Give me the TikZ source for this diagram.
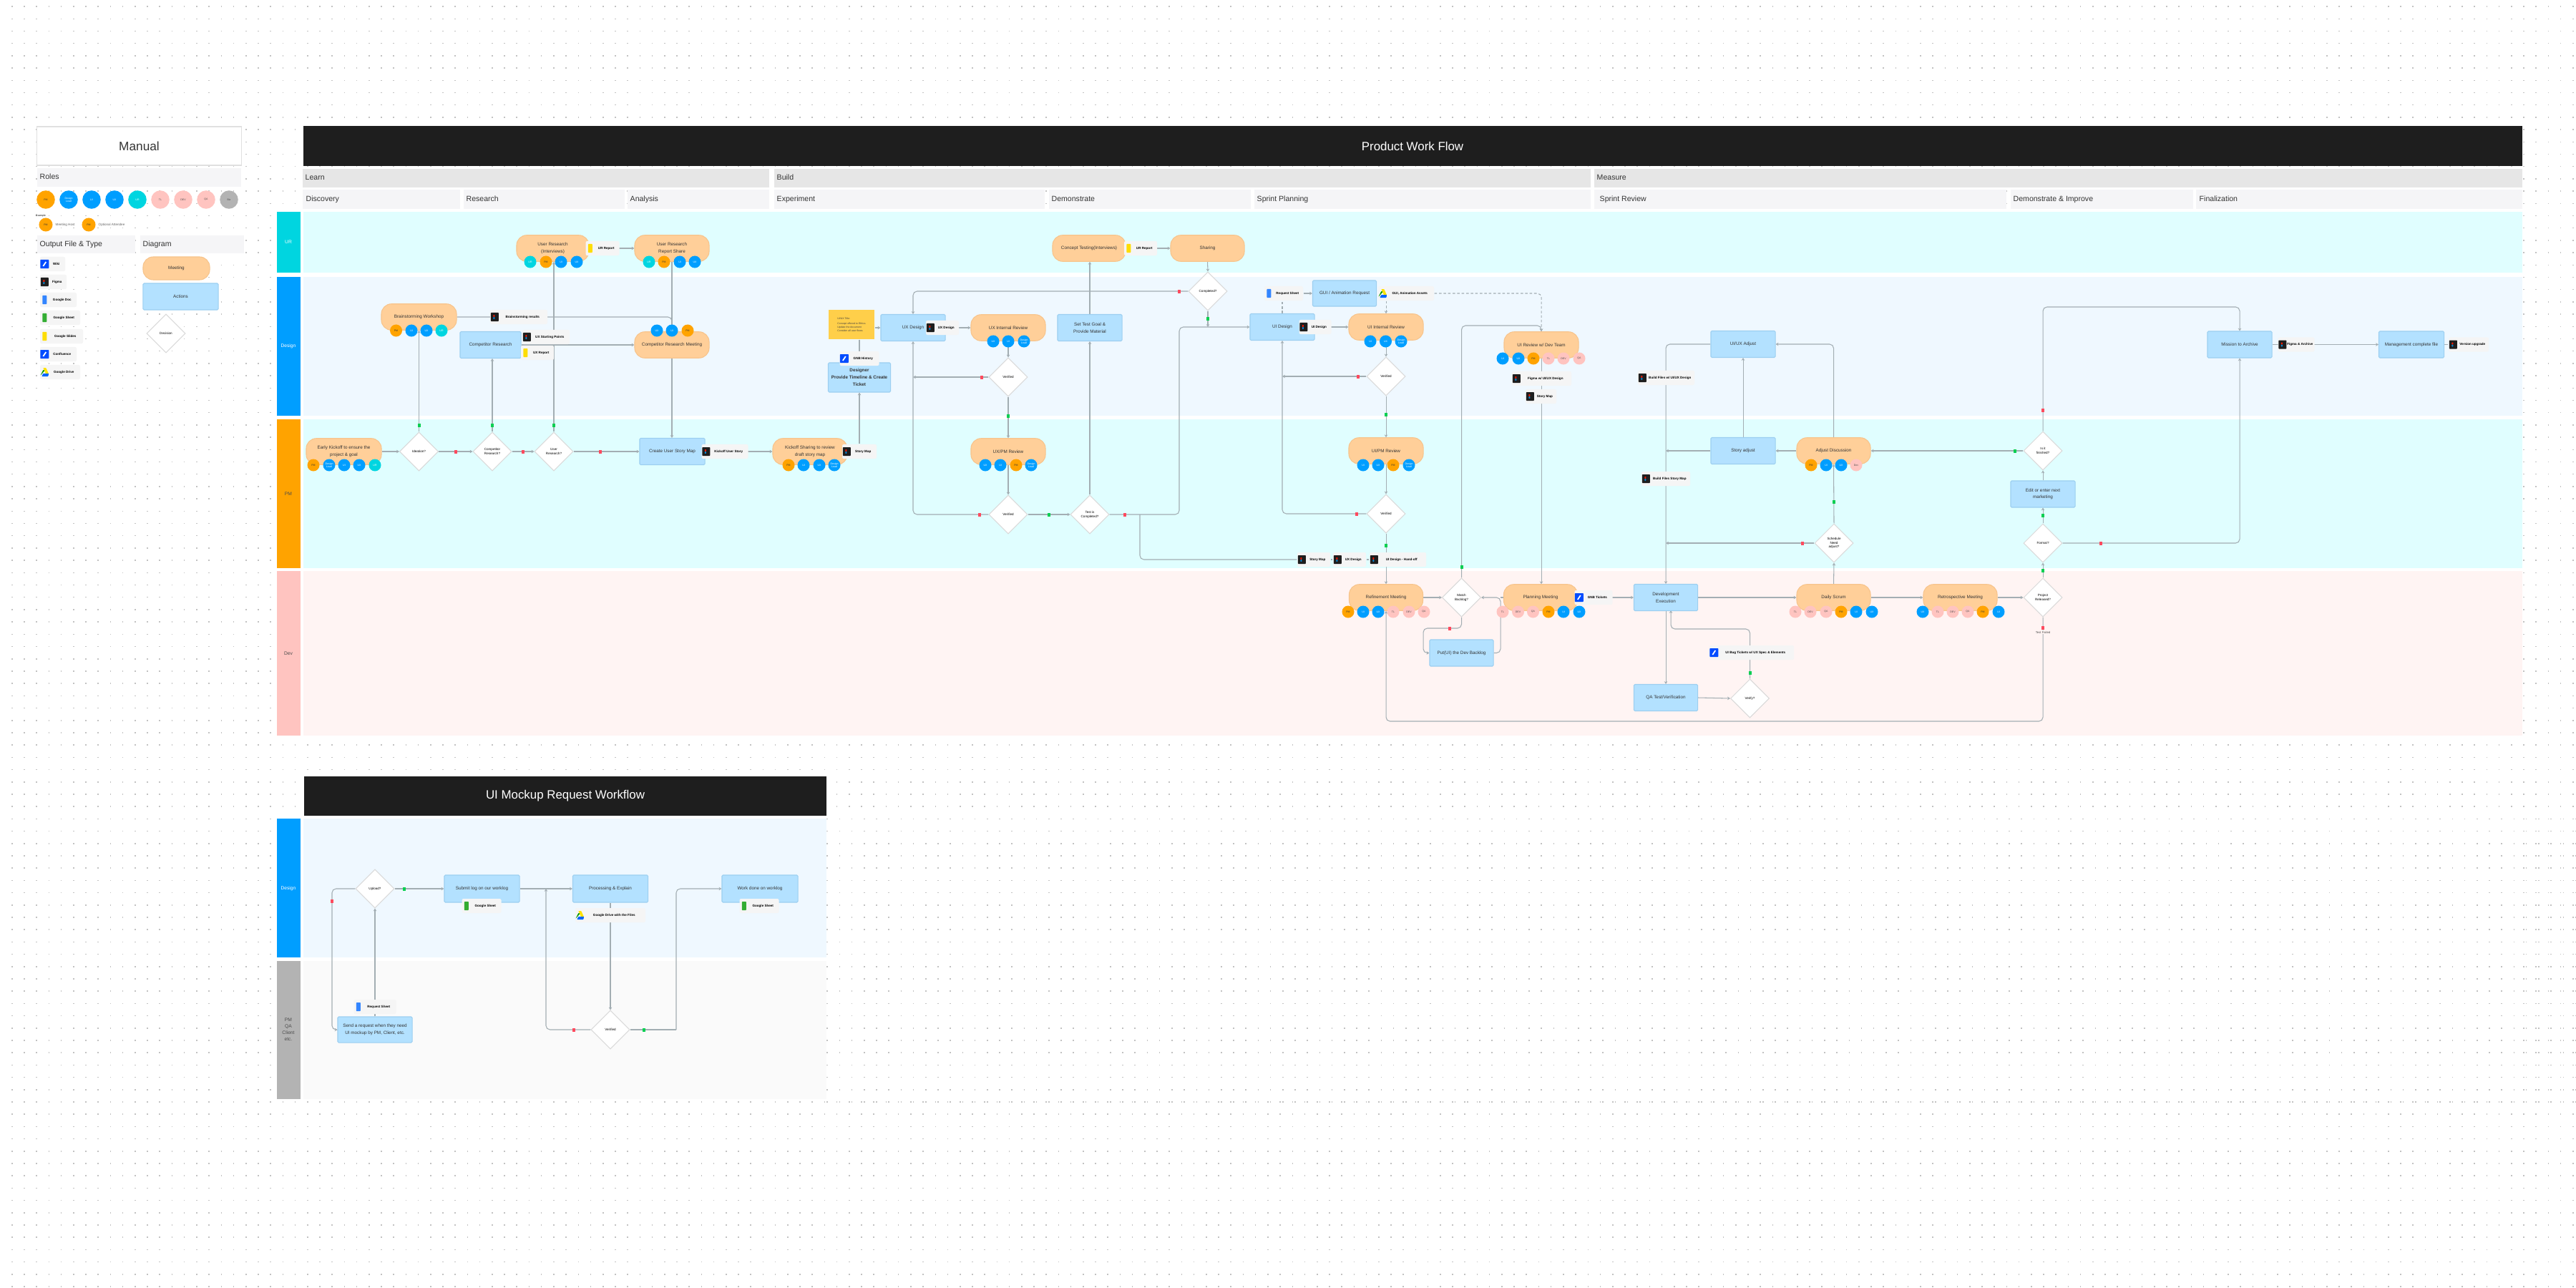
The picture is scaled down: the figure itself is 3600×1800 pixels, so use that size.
\documentclass[tikz,border=0pt]{standalone}
\usepackage{fontspec}
\setmainfont{Liberation Sans}
\usepackage{xcolor}
\usetikzlibrary{arrows.meta, positioning, shapes.geometric, calc}
\pgfdeclarelayer{lanes}
\pgfdeclarelayer{wires}
\pgfsetlayers{lanes,wires,main}

\definecolor{hdrblack}{HTML}{1E1E1E}
\definecolor{barmid}{HTML}{E6E6E6}
\definecolor{barlight}{HTML}{F5F5F7}
\definecolor{laneur}{HTML}{E0FEFF}
\definecolor{lanedes}{HTML}{EFF8FF}
\definecolor{lanedev}{HTML}{FFF4F3}
\definecolor{laneoth}{HTML}{FAFAFA}
\definecolor{roleteal}{HTML}{00D5E0}
\definecolor{roleblue}{HTML}{009EFF}
\definecolor{roleorange}{HTML}{FFA300}
\definecolor{rolepink}{HTML}{FFC4C0}
\definecolor{rolegrey}{HTML}{B3B3B3}
\definecolor{meetfill}{HTML}{FFCF99}
\definecolor{meetedge}{HTML}{F7C48C}
\definecolor{actfill}{HTML}{B3E1FF}
\definecolor{actedge}{HTML}{9CCFF0}
\definecolor{wiregrey}{HTML}{A3AEB3}
\definecolor{okgreen}{HTML}{0BCF52}
\definecolor{nored}{HTML}{FF4A5E}
\definecolor{stickyyel}{HTML}{FFCF4A}

% one file chip: name, x, y, width, icon style, text
\newcommand{\filechip}[6]{%
  \node[chip, minimum width=#4*0.01cm] (#1) at (#2,#3) {\hspace{3pt}#6};
  \node[#5] (#1-icon) at ($(#1.west)+(7,0)$) {};
}

\begin{document}
\begin{tikzpicture}[
    x=0.01cm, y=-0.01cm,
    meeting/.style={draw=meetedge, fill=meetfill, line width=0.3pt, rounded corners=4pt, minimum height=0.365cm, align=center, inner sep=0pt, text=black!80, font=\fontsize{1.8}{2.7}\selectfont},
    action/.style={draw=actedge, fill=actfill, line width=0.3pt, rounded corners=0.4pt, minimum height=0.37cm, align=center, inner sep=0pt, text=black!80, font=\fontsize{1.8}{2.7}\selectfont},
    decision/.style={diamond, aspect=1, draw=black!15, fill=white, line width=0.3pt, minimum width=0.54cm, minimum height=0.54cm, inner sep=0pt, align=center, font=\fontsize{1.3}{1.6}\selectfont},
    chip/.style={fill=black!4, rounded corners=0.6pt, minimum height=0.2cm, inner sep=0pt, text=black, font=\fontsize{1.3}{1.6}\selectfont\bfseries},
    avatar/.style={circle, minimum size=0.17cm, inner sep=0pt, align=center, font=\fontsize{1}{1.1}\selectfont},
    avO/.style={avatar, fill=roleorange, text=black!80},
    avB/.style={avatar, fill=roleblue, text=white},
    avT/.style={avatar, fill=roleteal, text=white},
    avP/.style={avatar, fill=rolepink, text=black!70},
    avG/.style={avatar, fill=rolegrey, text=black!70},
    fileicon/.style={rectangle, inner sep=0pt, minimum width=0.06cm, minimum height=0.12cm, rounded corners=0.2pt},
    figicon/.style={fileicon, fill=hdrblack, minimum width=0.11cm, path picture={
        \fill[red!80!orange] ($(path picture bounding box.center)+(-2,-3)$) rectangle ++(2,3);
        \fill[cyan!70!blue] ($(path picture bounding box.center)+(-2,0)$) rectangle ++(2,3);}},
    jiraicon/.style={fileicon, fill=blue!70!cyan, minimum width=0.12cm, path picture={
        \draw[white, line width=0.5pt] ($(path picture bounding box.center)+(-2,3)$) -- ++(4,-6);}},
    docicon/.style={fileicon, fill=blue!60!cyan!80},
    sheeticon/.style={fileicon, fill=green!60!black!80},
    slideicon/.style={fileicon, fill=yellow!80!orange},
    driveicon/.style={fileicon, minimum width=0.12cm, path picture={
        \fill[green!60!black] ($(path picture bounding box.center)+(-6,5)$) -- ++(4,-8) -- ++(3,0) -- cycle;
        \fill[yellow!85!orange] ($(path picture bounding box.center)+(-2,-6)$) -- ++(4,0) -- ++(4,9) -- ++(-4,0) -- cycle;
        \fill[blue!60!cyan] ($(path picture bounding box.center)+(-4,6)$) -- ++(2,-4) -- ++(8,0) -- ++(-1,4) -- cycle;}},
    yesmark/.style={rectangle, fill=okgreen, minimum width=0.04cm, minimum height=0.05cm, inner sep=0pt},
    nomark/.style={rectangle, fill=nored, minimum width=0.04cm, minimum height=0.05cm, inner sep=0pt},
    wire/.style={draw=wiregrey, line width=0.3pt, rounded corners=1.6pt},
    arrow/.style={wire, -{Stealth[length=1.1pt, width=1.3pt]}},
    dasharrow/.style={arrow, dashed, dash pattern=on 1pt off 0.8pt},
    dashwire/.style={wire, dashed, dash pattern=on 1pt off 0.8pt},
    headtext/.style={text=white, font=\fontsize{4.8}{5.5}\selectfont},
    bartext/.style={anchor=west, inner sep=0pt, text height=2.2pt, text depth=0.6pt, text=black!80, font=\fontsize{3}{3.6}\selectfont},
    lanetext/.style={align=center, inner sep=0pt, font=\fontsize{1.9}{2.6}\selectfont},
    dotrow/.style={black!24, line width=0.45pt, dash pattern=on 0.45pt off 4.443pt}
]
    \useasboundingbox (0,0) rectangle (3600,1800);

    % Canvas dots, lanes and header bars
    \begin{pgfonlayer}{lanes}
    \fill[white] (0,0) rectangle (3600,1800);
    \foreach \k in {0,...,104} {
        \draw[dotrow] (16,{9.1+\k*17.2}) -- (3600,{9.1+\k*17.2});
    }
    \fill[hdrblack] (424,176) rectangle (3525,232);
    \foreach \l/\r in {423/1075, 1082/2223, 2228/3525} {
        \fill[barmid] (\l,236) rectangle (\r,262);
    }
    \foreach \l/\r in {423/643, 648/873, 877/1075, 1082/1460, 1466/1748, 1753/2223, 2228/2804, 2810/3065, 3069/3525} {
        \fill[barlight] (\l,265) rectangle (\r,292);
    }
    \foreach \t/\b/\c/\s in {296/381/laneur/roleteal, 387/581/lanedes/roleblue, 586/794/laneur/roleorange, 798/1028/lanedev/rolepink, 1144/1338/lanedes/roleblue, 1343/1536/laneoth/rolegrey} {
        \fill[\c] (424,\t) rectangle (3525,\b);
        \fill[\s] (387,\t) rectangle (420,\b);
    }
    % second table is narrower, so wipe the right part
    \fill[white] (1155,1144) rectangle (3525,1536);
    \foreach \k in {66,...,89} {
        \draw[dotrow] (1155.3,{9.1+\k*17.2}) -- (3600,{9.1+\k*17.2});
    }
    \fill[hdrblack] (425,1085) rectangle (1155,1140);
    \fill[barlight] (52,235) rectangle (337,261);
    \fill[barlight] (52,329) rectangle (189,354);
    \fill[barlight] (196,329) rectangle (341,354);
    \end{pgfonlayer}

    % Titles
    \node[headtext] (titleMain) at (1974,204) {Product Work Flow};
    \node[headtext] (titleMock) at (790,1112) {UI Mockup Request Workflow};
    \foreach \x/\t [count=\i] in {426/Learn, 1085/Build, 2231/Measure} {
        \node[bartext] (phase\i) at (\x,249) {\t};
    }
    \foreach \x/\t [count=\i] in {427/Discovery, 651/Research, 880/Analysis, 1085/Experiment, 1469/Demonstrate, 1756/Sprint Planning, 2235/Sprint Review, 2813/Demonstrate \& Improve, 3073/Finalization} {
        \node[bartext] (stage\i) at (\x,278.5) {\t};
    }
    \foreach \y/\t/\c [count=\i] in {338/UR/white, 484/Design/white, 690/PM/black!70, 913/Dev/black!70, 1242/Design/white} {
        \node[lanetext, text=\c] (lane\i) at (403,\y) {\t};
    }
    \node[lanetext, text=black!70] (laneOther) at (403,1439) {PM\\QA\\Client\\etc.};

    % Manual panel
    \node[draw=black!12, fill=white, line width=0.4pt, minimum width=2.86cm, minimum height=0.54cm, font=\fontsize{4.9}{5.5}\selectfont, text=black!80] (manual) at (194.5,204) {Manual};
    \node[bartext] (rolesHead) at (55,248) {Roles};
    \node[bartext] (outputHead) at (55,341.5) {Output File \& Type};
    \node[bartext] (diagramHead) at (199,341.5) {Diagram};
    \foreach \x/\s/\t [count=\i] in {64/avO/PM, 96/avB/Design\\Lead, 128/avB/UI, 160/avB/UX, 192/avT/UR, 224/avP/TL, 256/avP/DEV, 288/avP/QA, 320/avG/Biz} {
        \node[\s, minimum size=0.255cm] (role\i) at (\x,279) {\t};
    }
    \node[inner sep=0pt, font=\fontsize{1}{1.2}\selectfont] (exampleTag) at (57,302) {Example};
    \node[avO, minimum size=0.19cm] (roleHost) at (64,314) {PM};
    \node[avO, minimum size=0.19cm] (roleOpt) at (124,314) {PM};
    \node[inner sep=0pt, anchor=west, text=black!60, font=\fontsize{1.3}{1.6}\selectfont] (hostText) at (77,314) {Meeting Host};
    \node[inner sep=0pt, anchor=west, text=black!60, font=\fontsize{1.3}{1.6}\selectfont] (optText) at (137,314) {Optional Attendee};
    \filechip{legWiki}{73.5}{369}{35}{jiraicon}{Wiki}
    \filechip{legFigma}{74.5}{394}{37}{figicon}{Figma}
    \filechip{legDoc}{81.5}{419}{51}{docicon}{Google Doc}
    \filechip{legSheet}{84}{444}{56}{sheeticon}{Google Sheet}
    \filechip{legSlide}{86}{470}{60}{slideicon}{Google Slides}
    \filechip{legConf}{81.5}{495}{51}{jiraicon}{Confluence}
    \filechip{legDrive}{84}{520}{56}{driveicon}{Google Drive}
    \node[meeting, minimum width=0.93cm, minimum height=0.32cm] (legMeeting) at (246.5,375) {Meeting};
    \node[action, minimum width=1.05cm] (legAction) at (252.5,414.5) {Actions};
    \node[decision] (legDecision) at (232,466) {Decision};

    % UR lane
    \node[meeting, minimum width=1.01cm] (mUr) at (772.5,347) {User Research\\(Interviews)};
    \node[meeting, minimum width=1.04cm] (mUrShare) at (939,347) {User Research\\Report Share};
    \node[meeting, minimum width=1.02cm] (mConcept) at (1522,347) {Concept Testing(Interviews)};
    \node[meeting, minimum width=1.03cm] (mSharing) at (1687.5,347) {Sharing};
    \filechip{chipUr}{842}{347}{47}{slideicon}{UR Report}
    \filechip{chipConcept}{1594}{347}{46}{slideicon}{UR Report}

    % Design lane
    \node[meeting, minimum width=1.05cm] (mBrain) at (585.5,443) {Brainstorming Workshop};
    \node[action, minimum width=0.85cm] (aComp) at (685.5,482) {Competitor Research};
    \node[meeting, minimum width=1.04cm] (mCompMeet) at (939,482) {Competitor Research Meeting};
    \filechip{chipBrain}{725}{443}{80}{figicon}{Brainstorming results}
    \filechip{chipCompA}{763}{471}{66}{figicon}{UX Starting Points}
    \filechip{chipCompB}{751}{493}{46}{slideicon}{UX Report}
    \node[fill=stickyyel, minimum width=0.64cm, minimum height=0.41cm, inner sep=0.5pt, align=left, text=black!75, font=\fontsize{1}{1.35}\selectfont] (sticky) at (1190,453.5) {UI/UX Title:\\[0.8pt]Concept offered to Ethics\\Update the document\\Consider all user flows};
    \node[action, minimum width=0.9cm] (aUx) at (1276,458) {UX Design};
    \node[action, minimum width=0.87cm, minimum height=0.41cm, font=\fontsize{1.8}{2.8}\selectfont\bfseries] (aDesigner) at (1201,527.5) {Designer\\Provide Timeline \& Create\\Ticket};
    \node[meeting, minimum width=1.04cm] (mUxInt) at (1409,458) {UX Internal Review};
    \node[decision] (dUxOne) at (1409,527) {Verified};
    \node[action, minimum width=0.9cm] (aGoal) at (1523,458) {Set Test Goal \&\\Provide Material};
    \node[decision] (dDone) at (1688,407) {Completed?};
    \node[action, minimum width=0.9cm] (aUi) at (1792,457) {UI Design};
    \node[action, minimum width=0.89cm, minimum height=0.36cm] (aGui) at (1879,410) {GUI / Animation Request};
    \node[meeting, minimum width=1.04cm] (mUiInt) at (1937,457) {UI Internal Review};
    \node[decision] (dUiOne) at (1937,526) {Verified};
    \node[meeting, minimum width=1.04cm] (mReview) at (2154,482) {UI Review w/ Dev Team};
    \node[action, minimum width=0.9cm] (aUiAdj) at (2436,481) {UI/UX Adjust};
    \node[action, minimum width=0.9cm] (aArch) at (3130,481.5) {Mission to Archive};
    \node[action, minimum width=0.91cm] (aMgmt) at (3370,481.5) {Management complete file};
    \filechip{chipGnb}{1201}{501}{55}{jiraicon}{GNB History}
    \filechip{chipUx}{1317}{458}{46}{figicon}{UX Design}
    \filechip{chipUi}{1838}{457}{45}{figicon}{UI Design}
    \filechip{chipReq}{1794}{410}{54}{docicon}{Request Sheet}
    \filechip{chipDrive}{1965}{410}{78}{driveicon}{GUI, Animation Assets}
    \filechip{chipFig}{2154.5}{529}{83}{figicon}{Figma w/ UI/UX Design}
    \filechip{chipRevMap}{2153.5}{554}{43}{figicon}{Story Map}
    \filechip{chipBuild}{2328.5}{528}{79}{figicon}{Build Files w/ UI/UX Design}
    \filechip{chipArch}{3209}{481.5}{51}{figicon}{Figma \& Archive}
    \filechip{chipVer}{3450}{481.5}{56}{figicon}{Version upgrade}

    % PM lane
    \node[meeting, minimum width=1.05cm] (mKick) at (480.5,631) {Early Kickoff to ensure the\\project \& goal};
    \node[decision] (dIdea) at (585.5,631) {Ideation?};
    \node[decision] (dComp) at (688,631) {Competitor\\Research?};
    \node[decision] (dUser) at (774,631) {User\\Research?};
    \node[action, minimum width=0.91cm] (aMap) at (939.5,631) {Create User Story Map};
    \node[meeting, minimum width=1.04cm] (mShare) at (1132,631) {Kickoff Sharing to review\\draft story map};
    \node[meeting, minimum width=1.04cm] (mUxPm) at (1409,631) {UX/PM Review};
    \node[decision] (dUxTwo) at (1409,719) {Verified};
    \node[decision] (dTest) at (1523,719) {Test is\\Completed?};
    \node[meeting, minimum width=1.04cm] (mUiPm) at (1937,630) {UI/PM Review};
    \node[decision] (dUiTwo) at (1937,718) {Verified};
    \node[action, minimum width=0.9cm] (aStory) at (2436,630) {Story adjust};
    \node[meeting, minimum width=1.03cm] (mAdjust) at (2562.5,630) {Adjust Discussion};
    \node[decision] (dSched) at (2563,759) {Schedule\\Need\\adjust?};
    \node[decision] (dFin) at (2855,630) {Is it\\finished?};
    \node[action, minimum width=0.9cm] (aEdit) at (2855,690.5) {Edit or enter next\\marketing};
    \node[decision] (dFmt) at (2855,759) {Format?};
    \filechip{chipKick}{1013}{631}{65}{figicon}{Kickoff User Story}
    \filechip{chipStory}{1201}{631}{48}{figicon}{Story Map}
    \filechip{chipMapB}{1836}{782}{46}{figicon}{Story Map}
    \filechip{chipUxB}{1886}{782}{46}{figicon}{UX Design}
    \filechip{chipUiB}{1953.5}{782}{79}{figicon}{UI Design - Hand-off}
    \filechip{chipBuildMap}{2328}{669}{68}{figicon}{Build Files Story Map}

    % Dev lane
    \node[meeting, minimum width=1.03cm] (mRefine) at (1937,835) {Refinement Meeting};
    \node[decision] (dMatch) at (2042.5,835) {Match\\Backlog?};
    \node[action, minimum width=0.89cm] (aPull) at (2042.5,912.5) {Put(UI) the Dev Backlog};
    \node[meeting, minimum width=1.03cm] (mPlan) at (2153,835) {Planning Meeting};
    \node[action, minimum width=0.89cm] (aDev) at (2328,835) {Development\\Execution};
    \node[action, minimum width=0.89cm] (aQa) at (2328,975) {QA Test/Verification};
    \node[decision] (dVer) at (2445.5,976) {Verify?};
    \node[meeting, minimum width=1.03cm] (mDaily) at (2562.5,835) {Daily Scrum};
    \node[meeting, minimum width=1.03cm] (mRetro) at (2739.5,835) {Retrospective Meeting};
    \node[decision] (dRel) at (2855,835) {Project\\Released?};
    \filechip{chipTick}{2227}{835}{53}{jiraicon}{GNB Tickets}
    \filechip{chipBug}{2448}{912}{118}{jiraicon}{UI Bug Tickets w/ UX Spec \& Elements}

    % Mockup table
    \node[decision] (dUpload) at (524,1242) {Upload?};
    \node[action, minimum width=1.05cm, minimum height=0.38cm] (aLog) at (673.5,1242) {Submit log on our worklog};
    \node[action, minimum width=1.05cm, minimum height=0.38cm] (aExplain) at (853,1242) {Processing \& Explain};
    \node[action, minimum width=1.06cm, minimum height=0.38cm] (aDoneLog) at (1062,1242) {Work done on worklog};
    \node[action, minimum width=1.04cm, minimum height=0.36cm] (aSend) at (524,1439) {Send a request when they need\\UI mockup by PM, Client, etc.};
    \node[decision] (dCheck) at (853,1439) {Verified};
    \filechip{chipSheetA}{673}{1266}{55}{sheeticon}{Google Sheet}
    \filechip{chipSheetB}{1061}{1266}{55}{sheeticon}{Google Sheet}
    \filechip{chipDriveB}{853}{1279}{98}{driveicon}{Google Drive with the Files}
    \filechip{chipReqB}{524}{1407}{59}{docicon}{Request Sheet}

    % Role dots on the meetings
    \foreach \x/\s/\t [count=\i] in {741/avT/UR, 763/avO/PM, 784/avB/UI, 806/avB/UX} { \node[\s] (mUr-\i) at (\x,366) {\t}; }
    \foreach \x/\s/\t [count=\i] in {907/avT/UR, 928/avO/PM, 950/avB/UI, 971/avB/UX} { \node[\s] (mUrShare-\i) at (\x,366) {\t}; }
    \foreach \x/\s/\t [count=\i] in {553.5/avO/PM, 575/avB/UI, 596/avB/UX, 617/avT/UR} { \node[\s] (mBrain-\i) at (\x,462) {\t}; }
    \foreach \x/\s/\t [count=\i] in {918/avB/UX, 939/avB/UI, 961/avO/PM} { \node[\s] (mCompMeet-\i) at (\x,462) {\t}; }
    \foreach \x/\s/\t [count=\i] in {438/avO/PM, 460/avB/Design\\Lead, 481/avB/UI, 502/avB/UX, 524/avT/UR} { \node[\s] (mKick-\i) at (\x,650) {\t}; }
    \foreach \x/\s/\t [count=\i] in {1102/avO/PM, 1123/avB/UI, 1145/avB/UX, 1166/avB/Design\\Lead} { \node[\s] (mShare-\i) at (\x,650) {\t}; }
    \foreach \x/\s/\t [count=\i] in {1388/avB/UX, 1409/avB/UI, 1431/avB/Design\\Lead} { \node[\s] (mUxInt-\i) at (\x,477) {\t}; }
    \foreach \x/\s/\t [count=\i] in {1377/avB/UX, 1398/avB/UI, 1420/avO/PM, 1441/avB/Design\\Lead} { \node[\s] (mUxPm-\i) at (\x,650) {\t}; }
    \foreach \x/\s/\t [count=\i] in {1915/avB/UI, 1936.5/avB/UX, 1958/avB/Design\\Lead} { \node[\s] (mUiInt-\i) at (\x,477) {\t}; }
    \foreach \x/\s/\t [count=\i] in {1905/avB/UI, 1926/avB/UX, 1947/avO/PM, 1969/avB/Design\\Lead} { \node[\s] (mUiPm-\i) at (\x,650) {\t}; }
    \foreach \x/\s/\t [count=\i] in {2100/avB/UI, 2122/avB/UX, 2143/avO/PM, 2164/avP/TL, 2185/avP/DEV, 2207/avP/QA} { \node[\s] (mReview-\i) at (\x,501) {\t}; }
    \foreach \x/\s/\t [count=\i] in {1884/avO/PM, 1905/avB/UI, 1926/avB/UX, 1947/avP/TL, 1969/avP/DEV, 1990/avP/QA} { \node[\s] (mRefine-\i) at (\x,855) {\t}; }
    \foreach \x/\s/\t [count=\i] in {2100/avP/TL, 2121.5/avP/DEV, 2142.5/avP/QA, 2164/avO/PM, 2185/avB/UI, 2207/avB/UX} { \node[\s] (mPlan-\i) at (\x,855) {\t}; }
    \foreach \x/\s/\t [count=\i] in {2509/avP/TL, 2530/avP/DEV, 2552/avP/QA, 2573/avO/PM, 2594/avB/UI, 2616/avB/UX} { \node[\s] (mDaily-\i) at (\x,855) {\t}; }
    \foreach \x/\s/\t [count=\i] in {2687/avB/UX, 2708/avP/TL, 2729/avP/DEV, 2750/avP/QA, 2771/avO/PM, 2793/avB/UI} { \node[\s] (mRetro-\i) at (\x,855) {\t}; }
    \foreach \x/\s/\t [count=\i] in {2531/avO/PM, 2552/avB/UI, 2573/avB/UX, 2594/avP/Dev} { \node[\s] (mAdjust-\i) at (\x,650) {\t}; }

    % Yes and no marks
    \foreach \x/\y [count=\i] in {585.5/594, 688/594, 774/594, 1409/581, 1466/719, 1688/445, 1937/579, 1937/762, 2042.5/792, 2563/701, 2816/630, 2855/720, 2855/797, 2445.5/940, 565/1242, 900/1439} {
        \node[yesmark] (yes\i) at (\x,\y) {};
    }
    \foreach \x/\y [count=\i] in {637/631, 731/631, 839/631, 1372/527, 1369/719, 1572/719, 1648/407, 1898/526, 1896/718, 2026/878, 2518.5/759, 2855/573, 2936/759, 2855/877, 464/1259, 802/1439} {
        \node[nomark] (no\i) at (\x,\y) {};
    }
    \node[fill=lanedev, inner sep=0.2pt, text=black!70, font=\fontsize{1.2}{1.4}\selectfont] (failText) at (2855,883.5) {Test Failed};

    % Bend points
    \coordinate (cTurn) at (1648,457);
    \coordinate (cBranch) at (1593,719);
    \coordinate (cPullL) at (1989,878);
    \coordinate (cPullR) at (2097,912.5);
    \coordinate (cReview) at (2154,455);
    \coordinate (cBug) at (2445.5,879);
    \coordinate (cBugIn) at (2335,853);
    \coordinate (cArchL) at (2855,429);
    \coordinate (cBack) at (1937,1008);
    \coordinate (cSendL) at (464,1439);
    \coordinate (cLogIn) at (763,1242);
    \coordinate (cDoneL) at (945,1439);

    % Connectors
    \begin{pgfonlayer}{wires}
    \draw[arrow] (mUr.east) -- (mUrShare.west);
    \draw[arrow] (mConcept.east) -- (mSharing.west);
    \draw[arrow] (dUser.north) -- (dUser.north |- mUr.south);
    \draw[arrow] (mUrShare.south) -- (mCompMeet.north);
    \draw[arrow] (mBrain.east) -| (mCompMeet.north);
    \draw[arrow] (aComp.east) -- (mCompMeet.west);
    \draw[arrow] (dComp.north) -- (dComp.north |- aComp.south);
    \draw[arrow] (dIdea.north) -- (mBrain.south);
    \draw[arrow] (mCompMeet.south) -- (mCompMeet.south |- aMap.north);
    \draw[arrow] (mKick.east) -- (dIdea.west);
    \draw[arrow] (dIdea.east) -- (dComp.west);
    \draw[arrow] (dComp.east) -- (dUser.west);
    \draw[arrow] (dUser.east) -- (aMap.west);
    \draw[arrow] (aMap.east) -- (mShare.west);
    \draw[wire] (mShare.east) -- (chipStory.west);
    \draw[arrow] (chipStory.north) -- (aDesigner.south);
    \draw[wire] (aDesigner.north) -- (aDesigner.north |- sticky.south);
    \draw[arrow] (sticky.east |- aUx.west) -- (aUx.west);
    \draw[arrow] (aUx.east) -- (mUxInt.west);
    \draw[arrow] (mUxInt.south) -- (dUxOne.north);
    \draw[arrow] (dUxOne.south) -- (mUxPm.north);
    \draw[arrow] (mUxPm.south) -- (dUxTwo.north);
    \draw[arrow] (dUxOne.west) -- (dUxOne.west -| aUx.south);
    \draw[arrow] (dUxTwo.west) -| (aUx.south);
    \draw[arrow] (dUxTwo.east) -- (dTest.west);
    \draw[arrow] (dTest.north) -- (aGoal.south);
    \draw[arrow] (aGoal.north) -- (aGoal.north |- mConcept.south);
    \draw[arrow] (mSharing.south) -- (dDone.north);
    \draw[arrow] (dDone.west) -| (aUx.north);
    \draw[arrow] (dDone.south) -- (dDone.south |- aUi.west);
    \draw[arrow] (dTest.east) -| (cTurn) -- (aUi.west);
    \draw[wire] (cBranch) |- (chipMapB.west);
    \draw[wire] (chipMapB.east) -- (chipUxB.west);
    \draw[wire] (chipUxB.east) -- (chipUiB.west);
    \draw[arrow] (aUi.east) -- (mUiInt.west);
    \draw[dashwire] (aUi.north) -- (aUi.north |- chipReq.south);
    \draw[arrow] (chipReq.east) -- (aGui.west);
    \draw[dasharrow] (mUiInt.north |- chipDrive.south) -- (mUiInt.north);
    \draw[dasharrow] (chipDrive.east) -| (mReview.north);
    \draw[arrow] (mUiInt.south) -- (dUiOne.north);
    \draw[arrow] (dUiOne.south) -- (mUiPm.north);
    \draw[arrow] (mUiPm.south) -- (dUiTwo.north);
    \draw[arrow] (dUiTwo.south) -- (mRefine.north);
    \draw[arrow] (dUiOne.west) -- (dUiOne.west -| aUi.south);
    \draw[arrow] (dUiTwo.west) -| (aUi.south);
    \draw[arrow] (mRefine.east) -- (dMatch.west);
    \draw[arrow] (dMatch.south) |- (cPullL) |- (aPull.west);
    \draw[arrow] (aPull.east) -- (cPullR) |- (dMatch.east);
    \draw[wire] (mPlan.west) -- (cPullR |- mPlan.west);
    \draw[arrow] (dMatch.north) |- (cReview) -- (mReview.north);
    \draw[arrow] (mReview.south) -- (mReview.south |- mPlan.north);
    \draw[arrow] (mPlan.east) -- (aDev.west);
    \draw[arrow] (aDev.east) -- (mDaily.west);
    \draw[arrow] (mDaily.east) -- (mRetro.west);
    \draw[arrow] (mRetro.east) -- (dRel.west);
    \draw[arrow] (mDaily.north) -- (dSched.south);
    \draw[arrow] (dSched.north) -- (mAdjust.south);
    \draw[arrow] (dSched.west) -- (dSched.west -| aDev.north);
    \draw[arrow] (mAdjust.west) -- (aStory.east);
    \draw[arrow] (aStory.west) -- (aStory.west -| aDev.north);
    \draw[arrow] (aStory.north) -- (aUiAdj.south);
    \draw[arrow] (mAdjust.north) |- (aUiAdj.east);
    \draw[arrow] (aUiAdj.west) -| (aDev.north);
    \draw[arrow] (aDev.south) -- (aQa.north);
    \draw[arrow] (aQa.east) -- (dVer.west);
    \draw[arrow] (dVer.north) -- (cBug) -| (cBugIn);
    \draw[arrow] (dRel.north) -- (dFmt.south);
    \draw[arrow] (dFmt.north) -- (aEdit.south);
    \draw[arrow] (aEdit.north) -- (dFin.south);
    \draw[arrow] (dFin.west) -- (mAdjust.east);
    \draw[arrow] (dFin.north) -- (cArchL) -| (aArch.north);
    \draw[arrow] (dFmt.east) -| (aArch.south);
    \draw[arrow] (aArch.east) -- (aMgmt.west);
    \draw[wire] (aMgmt.east) -- (chipVer.west);
    \draw[arrow] (dRel.south) |- (cBack) -- (mRefine.south);
    % mockup table
    \draw[arrow] (aSend.north) -- (dUpload.south);
    \draw[arrow] (dUpload.west) -| (cSendL) -- (aSend.west);
    \draw[arrow] (dUpload.east) -- (aLog.west);
    \draw[arrow] (aLog.east) -- (aExplain.west);
    \draw[arrow] (aExplain.south) -- (dCheck.north);
    \draw[arrow] (dCheck.west) -| (cLogIn);
    \draw[wire] (dCheck.east) -- (cDoneL);
    \draw[arrow] (cDoneL) |- (aDoneLog.west);
    \end{pgfonlayer}
\end{tikzpicture}
\end{document}
